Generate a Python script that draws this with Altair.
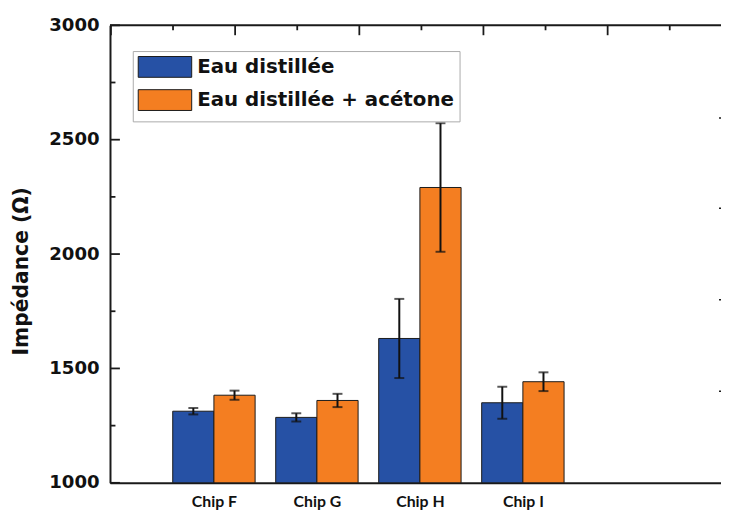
import altair as alt
import pandas as pd

# ---- data ----
chips = ["Chip F", "Chip G", "Chip H", "Chip I"]
series = ["Eau distillée", "Eau distillée + acétone"]
eau = [1313, 1286, 1631, 1350]
eau_err = [14, 18, 173, 70]
acetone = [1383, 1360, 2291, 1442]
acetone_err = [20, 29, 281, 41]

# frame ticks (x in category-step units, y in ohms)
y_major = [1000, 1500, 2000, 2500, 3000]
y_minor = [1250, 1750, 2250, 2750]
top_major = [0, 1.206, 2.412, 3.617, 4.823]
top_minor = [0.603, 1.809, 3.015, 4.22, 5.426]
right_ticks = [1400, 1800, 2200, 2595]

colors = ["#2651A5", "#F47E21"]

rows = []
for i, c in enumerate(chips):
    for j, s in enumerate(series):
        v = [eau, acetone][j][i]
        e = [eau_err, acetone_err][j][i]
        rows.append({"chip": c, "idx": i + 1, "sidx": j, "series": s, "value": v, "err": e})
df = pd.DataFrame(rows)

W = 617
H = 462
DARK = "#1a1a1a"
BAR = 0.4  # half group width in category-step units
X0 = -0.009

xscale = alt.Scale(domain=[X0, X0 + W / 104.0], nice=False, zero=False)
yscale = alt.Scale(domain=[1000, 3000], nice=False, zero=False)

label_expr = "[" + ",".join(["''"] + ["'" + c + "'" for c in chips]) + "][datum.value]"

xaxis = alt.Axis(
    orient="bottom", title=None, values=list(range(1, len(chips) + 1)), labelExpr=label_expr,
    ticks=False, labelPadding=11, labelFont="Lato", labelFontWeight="bold", labelFontSize=16,
    labelColor="#111", domainColor=DARK, domainWidth=2, grid=False, labelAngle=0,
)
yaxis = alt.Axis(
    orient="left", title="Impédance (Ω)", values=y_major, format="d", ticks=False,
    labelPadding=11, labelFont="DejaVu Sans", labelFontWeight="bold", labelFontSize=18.3,
    labelColor="#111", domainColor=DARK, domainWidth=2, grid=False, titleFont="DejaVu Sans",
    titleFontWeight="bold", titleFontSize=20.5, titleColor="#111", titleX=-89, titleY=248,
    titleAngle=270, titleAlign="center", titleBaseline="middle",
)

legend = alt.Legend(
    orient="none", legendX=23, legendY=26, title=" ", titleOrient="bottom",
    titleFontSize=3, titlePadding=1, symbolType="M-1,-1H4.143V1H-1Z", symbolSize=441,
    symbolStrokeColor=DARK, symbolStrokeWidth=1, symbolOpacity=1, labelFont="DejaVu Sans",
    labelFontWeight="bold", labelFontSize=20, labelColor="#111", labelOffset=38,
    labelLimit=400, rowPadding=7.5, padding=5, strokeColor="#aaaaaa", fillColor="white",
)


def X(field):
    return alt.X(field, type="quantitative", scale=xscale, axis=xaxis)


def Y(field):
    return alt.Y(field, type="quantitative", scale=yscale, axis=yaxis)


base = alt.Chart(df).transform_calculate(
    x0=f"datum.idx - {BAR} + datum.sidx * {BAR}",
    x1=f"datum.idx + datum.sidx * {BAR}",
    xc=f"datum.idx - {BAR / 2} + datum.sidx * {BAR}",
    lo="datum.value - datum.err",
    hi="datum.value + datum.err",
)

bars = base.mark_bar(stroke=DARK, strokeWidth=1).encode(
    x=X("x0"),
    x2="x1:Q",
    y=Y("value"),
    y2=alt.datum(1000),
    color=alt.Color("series:N", scale=alt.Scale(domain=series, range=colors), legend=legend),
)

stems = base.mark_rule(color="#111", strokeWidth=2).encode(x=X("xc"), y=Y("lo"), y2="hi:Q")
cap_lo = base.mark_tick(color="#111", thickness=2, size=10, orient="horizontal").encode(
    x=X("xc"), y=Y("lo")
)
cap_hi = base.mark_tick(color="#111", thickness=2, size=10, orient="horizontal").encode(
    x=X("xc"), y=Y("hi")
)

top_line = alt.Chart(pd.DataFrame({"v": [3000]})).mark_rule(color=DARK, strokeWidth=2).encode(
    y=Y("v"), x=alt.value(0), x2=alt.value(W)
)
left_major = alt.Chart(pd.DataFrame({"v": y_major})).mark_rule(color=DARK, strokeWidth=1.8).encode(
    y=Y("v"), x=alt.value(0), x2=alt.value(10)
)
left_minor = alt.Chart(pd.DataFrame({"v": y_minor})).mark_rule(color=DARK, strokeWidth=1.8).encode(
    y=Y("v"), x=alt.value(0), x2=alt.value(5.5)
)
right_tk = alt.Chart(pd.DataFrame({"v": right_ticks})).mark_rule(color=DARK, strokeWidth=1.5).encode(
    y=Y("v"), x=alt.value(W - 2), x2=alt.value(W)
)
top_maj = alt.Chart(pd.DataFrame({"t": top_major})).mark_rule(color=DARK, strokeWidth=1.8).encode(
    x=X("t"), y=alt.value(0), y2=alt.value(10)
)
top_min = alt.Chart(pd.DataFrame({"t": top_minor})).mark_rule(color=DARK, strokeWidth=1.8).encode(
    x=X("t"), y=alt.value(0), y2=alt.value(5)
)

chart = alt.layer(
    bars, stems, cap_lo, cap_hi, top_line, left_major, left_minor, right_tk, top_maj, top_min
).properties(
    width=W, height=H,
    background="white",
    autosize=alt.AutoSizeParams(type="none"),
    padding={"left": 103, "top": 15, "right": 0, "bottom": 28},
).configure_view(stroke="transparent", strokeWidth=0)

chart.save("out.html", embed_options={"renderer": "svg", "actions": False})
